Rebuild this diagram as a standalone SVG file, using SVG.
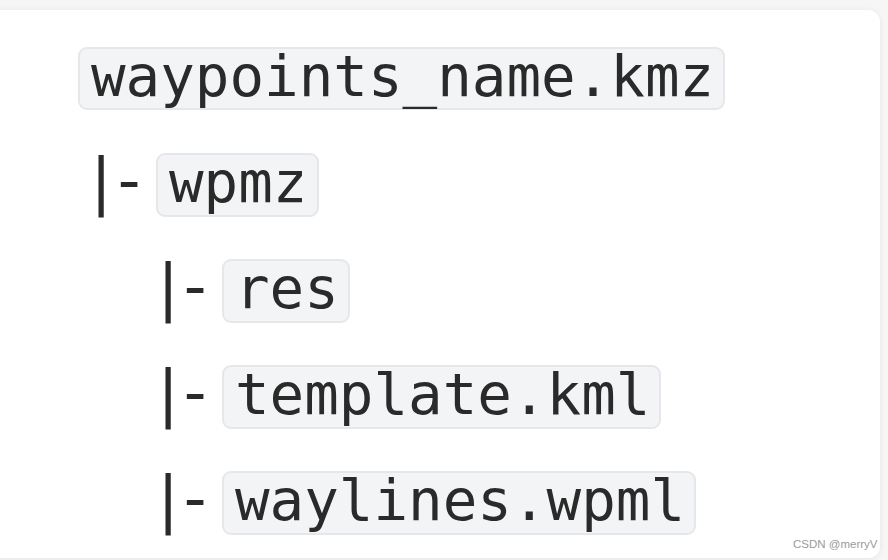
<svg xmlns="http://www.w3.org/2000/svg" width="888" height="560" viewBox="0 0 888 560">
  <defs>
    <filter id="sh" x="-5%" y="-5%" width="110%" height="110%">
      <feGaussianBlur in="SourceAlpha" stdDeviation="3"/>
      <feOffset dx="0" dy="1"/>
      <feComponentTransfer><feFuncA type="linear" slope="0.08"/></feComponentTransfer>
      <feMerge><feMergeNode/><feMergeNode in="SourceGraphic"/></feMerge>
    </filter>
  </defs>
  <style>
    .code { fill: #f3f4f5; stroke: #e5e7ea; stroke-width: 2; }
    .mono { font-family: "DejaVu Sans Mono", "Liberation Mono", monospace; font-size: 57.5px; fill: #2a2a2a; }
    .sym { font-family: "DejaVu Sans", "Liberation Sans", sans-serif; font-size: 63px; fill: #2a2a2a; text-anchor: middle; }
    .wm { font-family: "Liberation Sans", Arial, sans-serif; font-size: 11.5px; fill: #9a9a9a; }
  </style>
  <rect x="0" y="0" width="888" height="560" fill="#f6f6f6"/>
  <rect x="-12" y="10" width="892" height="548" rx="12" fill="#ffffff" filter="url(#sh)"/>

  <g id="root">
    <rect class="code" x="79" y="48" width="645" height="61" rx="8"/>
    <text class="mono" x="91" y="96">waypoints_name.kmz</text>
  </g>

  <g id="connectors">
    <text class="sym" x="101" y="202">|</text>
    <text class="sym" x="129" y="202">-</text>
    <text class="sym" x="168" y="308">|</text>
    <text class="sym" x="195" y="308">-</text>
    <text class="sym" x="168" y="414">|</text>
    <text class="sym" x="195" y="414">-</text>
    <text class="sym" x="168" y="520">|</text>
    <text class="sym" x="195" y="520">-</text>
  </g>

  <g id="wpmz">
    <rect class="code" x="157" y="154" width="161" height="62" rx="8"/>
    <text class="mono" x="169" y="202">wpmz</text>
  </g>

  <g id="res">
    <rect class="code" x="223" y="260" width="126" height="62" rx="8"/>
    <text class="mono" x="235" y="308">res</text>
  </g>

  <g id="template">
    <rect class="code" x="223" y="366" width="437" height="62" rx="8"/>
    <text class="mono" x="235" y="414">template.kml</text>
  </g>

  <g id="waylines">
    <rect class="code" x="223" y="472" width="472" height="62" rx="8"/>
    <text class="mono" x="235" y="520">waylines.wpml</text>
  </g>

  <text class="wm" x="793" y="548">CSDN @merryV</text>
</svg>
